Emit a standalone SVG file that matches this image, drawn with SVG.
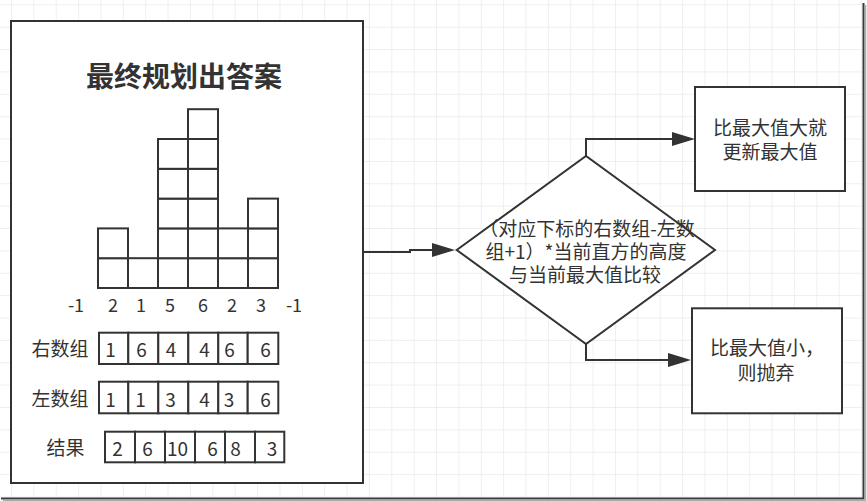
<svg xmlns="http://www.w3.org/2000/svg" width="867" height="501" viewBox="0 0 867 501">
  <defs>
    <pattern id="grid" patternUnits="userSpaceOnUse" x="11" y="4.33" width="22.37" height="22.37">
      <path d="M0 0 H22.37 M0 0 V22.37" fill="none" stroke="#e9e9e9" stroke-width="1.4"/>
    </pattern>
    <marker id="arrow" markerUnits="userSpaceOnUse" markerWidth="24" markerHeight="16" refX="0" refY="7" orient="auto">
      <path d="M0,0 L23,7 L0,14 z" fill="#333"/>
    </marker>
    <style>
      .box { fill: #fff; stroke: #333; stroke-width: 2; }
      .cell { fill: #fff; stroke: #333; stroke-width: 2; }
      .t { font-family: "Microsoft YaHei", "Noto Sans CJK SC", "Noto Sans", sans-serif; fill: #333; font-size: 19px; text-anchor: middle; }
      .title { font-size: 28px; font-weight: bold; }
      .conn { fill: none; stroke: #333; stroke-width: 2; }
    </style>
  </defs>

  <rect x="0" y="0" width="867" height="501" fill="#fff"/>
  <rect x="0" y="0" width="863" height="498" fill="url(#grid)"/>
  <path d="M863.5 3 V498.5 H1" fill="none" stroke="#3a3a3a" stroke-width="2"/>
  <path d="M865.5 5 V500.5 H3" fill="none" stroke="#aaa" stroke-width="1.5"/>

  <g id="main-box">
    <rect class="box" x="11" y="21" width="352" height="462"/>
    <text class="t title" x="184" y="87">最终规划出答案</text>
    <g id="histogram">
      <rect class="cell" x="98" y="258.2" width="30" height="29.8"/>
      <rect class="cell" x="98" y="228.4" width="30" height="29.8"/>
      <rect class="cell" x="128" y="258.2" width="30" height="29.8"/>
      <rect class="cell" x="158" y="258.2" width="30" height="29.8"/>
      <rect class="cell" x="158" y="228.4" width="30" height="29.8"/>
      <rect class="cell" x="158" y="198.6" width="30" height="29.8"/>
      <rect class="cell" x="158" y="168.8" width="30" height="29.8"/>
      <rect class="cell" x="158" y="139" width="30" height="29.8"/>
      <rect class="cell" x="188" y="258.2" width="30" height="29.8"/>
      <rect class="cell" x="188" y="228.4" width="30" height="29.8"/>
      <rect class="cell" x="188" y="198.6" width="30" height="29.8"/>
      <rect class="cell" x="188" y="168.8" width="30" height="29.8"/>
      <rect class="cell" x="188" y="139" width="30" height="29.8"/>
      <rect class="cell" x="188" y="109.2" width="30" height="29.8"/>
      <rect class="cell" x="218" y="258.2" width="30" height="29.8"/>
      <rect class="cell" x="218" y="228.4" width="30" height="29.8"/>
      <rect class="cell" x="248" y="258.2" width="30" height="29.8"/>
      <rect class="cell" x="248" y="228.4" width="30" height="29.8"/>
      <rect class="cell" x="248" y="198.6" width="30" height="29.8"/>
    </g>
    <g id="heights" class="t" style="font-size:18px">
      <text class="t" style="font-size:18px" x="76" y="311.5">-1</text>
      <text class="t" style="font-size:18px" x="113" y="311.5">2</text>
      <text class="t" style="font-size:18px" x="141" y="311.5">1</text>
      <text class="t" style="font-size:18px" x="170" y="311.5">5</text>
      <text class="t" style="font-size:18px" x="203" y="311.5">6</text>
      <text class="t" style="font-size:18px" x="232" y="311.5">2</text>
      <text class="t" style="font-size:18px" x="261" y="311.5">3</text>
      <text class="t" style="font-size:18px" x="294" y="311.5">-1</text>
    </g>
    <g id="right-array">
      <text class="t" x="60" y="356">右数组</text>
      <rect class="cell" x="99" y="332.7" width="29.3" height="31.3"/>
      <rect class="cell" x="128.3" y="332.7" width="30" height="31.3"/>
      <rect class="cell" x="158.3" y="332.7" width="30" height="31.3"/>
      <rect class="cell" x="188.3" y="332.7" width="30" height="31.3"/>
      <rect class="cell" x="218.3" y="332.7" width="29.4" height="31.3"/>
      <rect class="cell" x="247.7" y="332.7" width="30.6" height="31.3"/>
      <text class="t" x="110.5" y="356.5">1</text>
      <text class="t" x="141.5" y="356.5">6</text>
      <text class="t" x="171" y="356.5">4</text>
      <text class="t" x="204.5" y="356.5">4</text>
      <text class="t" x="229.5" y="356.5">6</text>
      <text class="t" x="265.5" y="356.5">6</text>
    </g>
    <g id="left-array">
      <text class="t" x="60" y="406">左数组</text>
      <rect class="cell" x="99" y="381.7" width="29.3" height="31.6"/>
      <rect class="cell" x="128.3" y="381.7" width="30" height="31.6"/>
      <rect class="cell" x="158.3" y="381.7" width="30" height="31.6"/>
      <rect class="cell" x="188.3" y="381.7" width="30" height="31.6"/>
      <rect class="cell" x="218.3" y="381.7" width="29.4" height="31.6"/>
      <rect class="cell" x="247.7" y="381.7" width="30.6" height="31.6"/>
      <text class="t" x="110.5" y="406.5">1</text>
      <text class="t" x="140.5" y="406.5">1</text>
      <text class="t" x="170.5" y="406.5">3</text>
      <text class="t" x="204.5" y="406.5">4</text>
      <text class="t" x="229" y="406.5">3</text>
      <text class="t" x="265.5" y="406.5">6</text>
    </g>
    <g id="result-array">
      <text class="t" x="65.5" y="455">结果</text>
      <rect class="cell" x="105" y="431.7" width="30" height="30.6"/>
      <rect class="cell" x="135" y="431.7" width="30" height="30.6"/>
      <rect class="cell" x="165" y="431.7" width="30" height="30.6"/>
      <rect class="cell" x="195" y="431.7" width="30" height="30.6"/>
      <rect class="cell" x="225" y="431.7" width="30" height="30.6"/>
      <rect class="cell" x="255" y="431.7" width="29.3" height="30.6"/>
      <text class="t" x="117.5" y="456">2</text>
      <text class="t" x="147.5" y="456">6</text>
      <text class="t" x="177.5" y="456">10</text>
      <text class="t" x="212.5" y="456">6</text>
      <text class="t" x="235.5" y="456">8</text>
      <text class="t" x="272" y="456">3</text>
    </g>
  </g>

  <g id="decision">
    <polygon class="box" points="456.7,250 586,156 715,250 586,344"/>
    <text class="t" x="587" y="235.5">（对应下标的右数组-左数</text>
    <text class="t" x="586" y="258.5">组+1）*当前直方的高度</text>
    <text class="t" x="585" y="281.5">与当前最大值比较</text>
  </g>

  <g id="update-max">
    <rect class="box" x="695" y="87" width="150" height="104"/>
    <text class="t" x="770" y="135">比最大值大就</text>
    <text class="t" x="770" y="159">更新最大值</text>
  </g>

  <g id="discard">
    <rect class="box" x="692" y="308.3" width="150" height="105"/>
    <text class="t" x="767" y="355">比最大值小，</text>
    <text class="t" x="766" y="380">则抛弃</text>
  </g>

  <g id="connectors">
    <path class="conn" d="M363,252 H410 V250 H432" marker-end="url(#arrow)"/>
    <path class="conn" d="M586,156 V139 H672" marker-end="url(#arrow)"/>
    <path class="conn" d="M586,344 V360 H668" marker-end="url(#arrow)"/>
  </g>
</svg>
